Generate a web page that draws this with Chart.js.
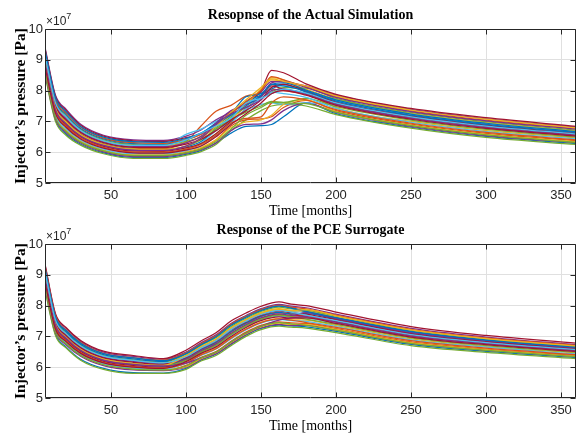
<!DOCTYPE html>
<html>
<head>
<meta charset="utf-8">
<script src="https://cdn.jsdelivr.net/npm/chart.js@4/dist/chart.umd.min.js"></script>
<style>
  html, body { margin: 0; padding: 0; background: #fff; width: 585px; height: 437px; overflow: hidden; }
  .panel { position: absolute; left: 0; width: 585px; height: 218px; }
  #simPanel { top: 0; }
  #pcePanel { top: 215px; }
</style>
</head>
<body>
<div class="panel" id="simPanel"><canvas id="simChart" width="585" height="218"></canvas></div>
<div class="panel" id="pcePanel"><canvas id="pceChart" width="585" height="218"></canvas></div>
<script>
// pressures are in units of 1e7 Pa (the axis shows the x10^7 multiplier)
const xTicks = [50, 100, 150, 200, 250, 300, 350];
const yTicks = [5, 6, 7, 8, 9, 10];
const lineColours = ['#0072BD', '#D95319', '#EDB120', '#7E2F8E', '#77AC30', '#4DBEEE', '#A2142F'];

const simMonths = [6, 13, 20, 30, 45, 65, 85, 100, 110, 120, 130, 140, 150, 157, 165, 180, 200, 250, 300, 360];
const simRuns = [
  [8.55, 7.04, 6.59, 6.25, 5.98, 5.83, 5.83, 5.93, 6.05, 6.30, 6.62, 6.84, 6.86, 6.90, 7.15, 7.60, 7.25, 6.81, 6.51, 6.28],
  [9.00, 7.47, 7.02, 6.59, 6.28, 6.13, 6.12, 6.35, 6.85, 7.33, 7.52, 7.82, 7.92, 8.05, 8.00, 7.88, 7.55, 7.10, 6.80, 6.55],
  [8.77, 7.26, 6.81, 6.42, 6.13, 5.98, 5.97, 6.08, 6.30, 6.60, 7.05, 7.50, 7.95, 8.42, 8.35, 7.95, 7.45, 7.00, 6.70, 6.46],
  [9.40, 7.85, 7.40, 6.90, 6.55, 6.40, 6.38, 6.52, 6.72, 7.05, 7.30, 7.60, 7.95, 8.30, 8.28, 8.15, 7.85, 7.39, 7.09, 6.81],
  [8.50, 7.00, 6.55, 6.22, 5.95, 5.80, 5.80, 5.90, 6.02, 6.25, 6.70, 7.05, 7.35, 7.50, 7.55, 7.50, 7.22, 6.78, 6.48, 6.25],
  [9.04, 7.51, 7.06, 6.63, 6.31, 6.16, 6.20, 6.58, 6.75, 7.00, 7.20, 7.55, 7.85, 8.10, 8.15, 8.00, 7.68, 7.23, 6.93, 6.66],
  [9.36, 7.81, 7.36, 6.87, 6.52, 6.37, 6.35, 6.47, 6.60, 6.90, 7.30, 7.60, 8.00, 8.66, 8.58, 8.22, 7.88, 7.42, 7.12, 6.84],
  [8.91, 7.38, 6.93, 6.52, 6.22, 6.07, 6.06, 6.17, 6.35, 6.75, 7.10, 7.65, 7.85, 8.05, 8.20, 7.95, 7.62, 7.16, 6.86, 6.60],
  [8.64, 7.13, 6.68, 6.32, 6.04, 5.89, 5.89, 5.99, 6.12, 6.40, 6.85, 7.05, 7.08, 7.15, 7.45, 7.68, 7.35, 6.91, 6.61, 6.37],
  [9.13, 7.60, 7.15, 6.70, 6.37, 6.22, 6.21, 6.32, 6.50, 6.85, 7.20, 7.55, 8.05, 8.35, 8.30, 8.05, 7.72, 7.26, 6.96, 6.69],
  [8.59, 7.09, 6.64, 6.29, 6.01, 5.86, 5.86, 5.96, 6.08, 6.30, 6.70, 6.90, 6.92, 7.05, 7.35, 7.60, 7.29, 6.84, 6.54, 6.31],
  [9.18, 7.64, 7.19, 6.73, 6.40, 6.25, 6.24, 6.35, 6.50, 6.80, 7.15, 7.45, 7.75, 7.95, 8.10, 8.08, 7.75, 7.29, 6.99, 6.72],
  [8.82, 7.30, 6.85, 6.46, 6.16, 6.01, 6.00, 6.12, 6.30, 6.70, 7.00, 7.35, 7.55, 7.60, 7.55, 7.60, 7.52, 7.07, 6.77, 6.52],
  [8.86, 7.34, 6.89, 6.49, 6.19, 6.04, 6.03, 6.14, 6.28, 6.60, 7.00, 7.40, 7.80, 8.15, 8.05, 7.90, 7.58, 7.13, 6.83, 6.57],
  [9.22, 7.68, 7.23, 6.76, 6.43, 6.28, 6.26, 6.40, 6.60, 6.95, 7.25, 7.80, 7.90, 8.20, 8.25, 8.02, 7.70, 7.24, 6.94, 6.67],
  [9.27, 7.72, 7.27, 6.80, 6.46, 6.31, 6.29, 6.42, 6.58, 6.90, 7.25, 7.65, 8.00, 8.45, 8.35, 8.12, 7.80, 7.34, 7.04, 6.77],
  [8.68, 7.17, 6.72, 6.36, 6.07, 5.92, 5.92, 6.02, 6.15, 6.40, 6.80, 6.98, 7.05, 7.20, 7.55, 7.70, 7.32, 6.88, 6.58, 6.34],
  [9.09, 7.55, 7.10, 6.66, 6.34, 6.19, 6.18, 6.30, 6.52, 6.95, 7.35, 7.55, 7.80, 8.25, 8.30, 8.10, 7.78, 7.32, 7.02, 6.75],
  [8.95, 7.43, 6.98, 6.56, 6.25, 6.10, 6.09, 6.20, 6.40, 6.75, 7.05, 7.30, 7.50, 7.65, 7.62, 7.75, 7.48, 7.04, 6.74, 6.49],
  [8.73, 7.21, 6.76, 6.39, 6.10, 5.95, 5.95, 6.05, 6.20, 6.55, 6.95, 7.40, 7.75, 7.95, 7.90, 7.78, 7.42, 6.97, 6.67, 6.43],
  [9.04, 7.51, 7.06, 6.63, 6.31, 6.16, 6.15, 6.26, 6.42, 6.70, 7.05, 7.35, 7.70, 8.10, 8.20, 7.98, 7.63, 7.18, 6.88, 6.62],
  [9.31, 7.77, 7.32, 6.83, 6.49, 6.34, 6.32, 6.45, 6.62, 6.90, 7.20, 7.50, 7.85, 8.20, 8.15, 7.98, 7.66, 7.20, 6.90, 6.64],
  [8.82, 7.30, 6.85, 6.46, 6.16, 6.01, 6.00, 6.10, 6.25, 6.55, 6.95, 7.10, 7.15, 7.60, 7.80, 7.70, 7.38, 6.94, 6.64, 6.40],
  [8.95, 7.43, 6.98, 6.56, 6.25, 6.10, 6.09, 6.20, 6.45, 6.85, 7.30, 7.70, 8.10, 8.38, 8.30, 8.15, 7.83, 7.37, 7.07, 6.79],
  [8.91, 7.38, 6.93, 6.52, 6.22, 6.07, 6.06, 6.20, 6.45, 6.90, 7.25, 7.45, 7.70, 8.00, 8.05, 7.88, 7.55, 7.10, 6.80, 6.55],
  [8.64, 7.13, 6.68, 6.32, 6.04, 5.89, 5.89, 5.98, 6.10, 6.35, 6.75, 7.20, 7.45, 7.62, 7.60, 7.58, 7.30, 6.86, 6.56, 6.32],
  [9.13, 7.60, 7.15, 6.70, 6.37, 6.22, 6.22, 6.40, 6.62, 6.85, 7.10, 7.60, 7.75, 7.90, 8.05, 7.92, 7.60, 7.15, 6.85, 6.59],
  [8.77, 7.26, 6.81, 6.42, 6.13, 5.98, 5.97, 6.07, 6.20, 6.50, 6.90, 7.25, 7.60, 7.90, 8.00, 7.85, 7.52, 7.07, 6.77, 6.52]
];

const pceMonths = [6, 13, 20, 30, 45, 65, 85, 100, 110, 120, 130, 140, 150, 162, 170, 180, 200, 250, 300, 360];
const pceRuns = [
  [8.54, 7.07, 6.66, 6.25, 5.96, 5.82, 5.81, 5.96, 6.23, 6.42, 6.74, 7.04, 7.26, 7.37, 7.34, 7.31, 7.16, 6.74, 6.51, 6.31],
  [8.97, 7.42, 6.99, 6.59, 6.27, 6.13, 6.07, 6.28, 6.56, 6.79, 7.14, 7.42, 7.64, 7.76, 7.71, 7.64, 7.46, 7.01, 6.76, 6.53],
  [8.76, 7.24, 6.83, 6.44, 6.14, 6.00, 5.96, 6.14, 6.41, 6.62, 6.96, 7.24, 7.46, 7.58, 7.54, 7.53, 7.35, 6.92, 6.67, 6.46],
  [9.31, 7.70, 7.26, 6.83, 6.49, 6.35, 6.26, 6.49, 6.79, 7.05, 7.42, 7.68, 7.90, 8.04, 7.98, 7.93, 7.72, 7.26, 6.98, 6.73],
  [8.50, 7.03, 6.63, 6.22, 5.93, 5.80, 5.80, 5.93, 6.20, 6.38, 6.70, 7.00, 7.22, 7.33, 7.30, 7.27, 7.12, 6.70, 6.48, 6.28],
  [9.01, 7.46, 7.03, 6.62, 6.30, 6.16, 6.10, 6.36, 6.64, 6.88, 7.24, 7.52, 7.74, 7.87, 7.81, 7.78, 7.59, 7.13, 6.87, 6.63],
  [9.35, 7.74, 7.29, 6.86, 6.52, 6.38, 6.28, 6.55, 6.85, 7.12, 7.50, 7.76, 7.98, 8.12, 8.05, 8.00, 7.79, 7.32, 7.03, 6.78],
  [8.88, 7.35, 6.93, 6.53, 6.22, 6.08, 6.03, 6.30, 6.58, 6.81, 7.16, 7.44, 7.66, 7.78, 7.73, 7.74, 7.56, 7.10, 6.84, 6.61],
  [8.65, 7.16, 6.75, 6.37, 6.07, 5.93, 5.90, 6.06, 6.32, 6.51, 6.84, 7.14, 7.36, 7.47, 7.44, 7.42, 7.25, 6.82, 6.59, 6.38],
  [9.10, 7.53, 7.09, 6.68, 6.36, 6.22, 6.14, 6.38, 6.67, 6.91, 7.28, 7.55, 7.77, 7.90, 7.84, 7.82, 7.62, 7.17, 6.89, 6.66],
  [8.63, 7.14, 6.73, 6.35, 6.05, 5.91, 5.89, 6.00, 6.25, 6.44, 6.76, 7.06, 7.28, 7.39, 7.36, 7.36, 7.20, 6.77, 6.55, 6.34],
  [9.14, 7.56, 7.13, 6.71, 6.38, 6.24, 6.17, 6.42, 6.71, 6.96, 7.32, 7.59, 7.81, 7.95, 7.89, 7.85, 7.66, 7.20, 6.92, 6.68],
  [8.80, 7.28, 6.86, 6.47, 6.16, 6.02, 5.98, 6.20, 6.47, 6.69, 7.04, 7.32, 7.54, 7.66, 7.62, 7.60, 7.42, 6.98, 6.73, 6.51],
  [8.84, 7.31, 6.89, 6.50, 6.19, 6.05, 6.00, 6.24, 6.51, 6.74, 7.08, 7.37, 7.59, 7.71, 7.66, 7.67, 7.49, 7.04, 6.78, 6.56],
  [9.18, 7.60, 7.16, 6.74, 6.41, 6.27, 6.19, 6.46, 6.75, 7.01, 7.38, 7.65, 7.87, 8.00, 7.94, 7.80, 7.60, 7.15, 6.88, 6.64],
  [9.25, 7.66, 7.21, 6.79, 6.45, 6.31, 6.23, 6.47, 6.76, 7.02, 7.39, 7.65, 7.87, 8.01, 7.95, 7.89, 7.69, 7.23, 6.95, 6.71],
  [8.69, 7.19, 6.78, 6.39, 6.09, 5.95, 5.92, 6.02, 6.28, 6.47, 6.80, 7.09, 7.31, 7.43, 7.39, 7.39, 7.23, 6.80, 6.57, 6.36],
  [9.05, 7.49, 7.06, 6.65, 6.33, 6.19, 6.12, 6.25, 6.53, 6.75, 7.10, 7.38, 7.60, 7.73, 7.68, 7.77, 7.58, 7.12, 6.85, 6.62],
  [8.93, 7.39, 6.96, 6.56, 6.25, 6.11, 6.05, 6.22, 6.49, 6.71, 7.06, 7.34, 7.56, 7.69, 7.64, 7.56, 7.39, 6.95, 6.70, 6.48],
  [8.71, 7.21, 6.80, 6.41, 6.11, 5.97, 5.94, 6.12, 6.38, 6.59, 6.92, 7.21, 7.43, 7.55, 7.51, 7.49, 7.32, 6.89, 6.65, 6.43],
  [9.01, 7.46, 7.03, 6.62, 6.30, 6.16, 6.10, 6.32, 6.60, 6.84, 7.20, 7.47, 7.69, 7.82, 7.77, 7.72, 7.54, 7.08, 6.82, 6.59],
  [9.22, 7.63, 7.19, 6.77, 6.44, 6.30, 6.21, 6.44, 6.73, 6.99, 7.36, 7.62, 7.84, 7.98, 7.92, 7.81, 7.61, 7.16, 6.88, 6.65],
  [8.80, 7.28, 6.86, 6.47, 6.16, 6.02, 5.98, 6.13, 6.40, 6.60, 6.94, 7.23, 7.45, 7.57, 7.53, 7.45, 7.29, 6.86, 6.62, 6.41],
  [8.94, 7.40, 6.97, 6.57, 6.26, 6.12, 6.06, 6.37, 6.66, 6.90, 7.26, 7.53, 7.75, 7.88, 7.83, 7.87, 7.67, 7.21, 6.93, 6.69],
  [8.90, 7.36, 6.94, 6.54, 6.23, 6.09, 6.04, 6.13, 6.30, 6.49, 6.82, 7.11, 7.33, 7.53, 7.60, 7.64, 7.46, 7.01, 6.76, 6.53],
  [8.67, 7.17, 6.76, 6.38, 6.08, 5.94, 5.91, 6.04, 6.30, 6.49, 6.82, 7.11, 7.33, 7.45, 7.41, 7.36, 7.20, 6.77, 6.55, 6.34],
  [9.10, 7.53, 7.09, 6.68, 6.36, 6.22, 6.14, 6.34, 6.62, 6.86, 7.22, 7.49, 7.71, 7.84, 7.79, 7.69, 7.51, 7.06, 6.80, 6.57],
  [8.76, 7.24, 6.83, 6.44, 6.14, 6.00, 5.96, 6.18, 6.45, 6.66, 7.00, 7.29, 7.51, 7.63, 7.59, 7.60, 7.42, 6.98, 6.73, 6.51]
];

const ink = '#262626';
const tickFont = { family: '"Liberation Sans Narrow", "Liberation Sans", sans-serif', size: 13 };
const serif = '"Liberation Serif", "DejaVu Serif", serif';

// matlab-style box, inward ticks on all four sides, title and exponent label
const axesFrame = {
  id: 'axesFrame',
  afterDatasetsDraw(chart, args, opts) {
    const ctx = chart.ctx;
    const a = chart.chartArea;
    const x = chart.scales.x, y = chart.scales.y;
    const L = Math.round(a.left) + 0.5, R = Math.round(a.right) - 0.5;
    const T = Math.round(a.top) + 0.5, B = Math.round(a.bottom) - 0.5;
    ctx.save();
    ctx.strokeStyle = ink;
    ctx.lineWidth = 1;
    ctx.beginPath();
    xTicks.forEach(function(v) {
      const px = Math.round(x.getPixelForValue(v)) + 0.5;
      ctx.moveTo(px, B); ctx.lineTo(px, B - 5);
      ctx.moveTo(px, T); ctx.lineTo(px, T + 5);
    });
    yTicks.forEach(function(v) {
      const py = Math.round(y.getPixelForValue(v)) + 0.5;
      ctx.moveTo(L, py); ctx.lineTo(L + 5, py);
      ctx.moveTo(R, py); ctx.lineTo(R - 5, py);
    });
    ctx.rect(L, T, R - L, B - T);
    ctx.stroke();

    ctx.fillStyle = '#000';
    ctx.font = 'bold 14px ' + serif;
    ctx.textAlign = 'center';
    ctx.textBaseline = 'middle';
    ctx.fillText(opts.title, (a.left + a.right) / 2, 15);

    ctx.fillStyle = ink;
    ctx.textAlign = 'left';
    ctx.textBaseline = 'alphabetic';
    ctx.font = '12px ' + tickFont.family;
    ctx.fillText('\u00d710', a.left + 1, a.top - 4);
    const w = ctx.measureText('\u00d710').width;
    ctx.font = '9px ' + tickFont.family;
    ctx.fillText('7', a.left + 1 + w, a.top - 10);
    ctx.restore();
  }
};

function makeChart(canvasId, title, months, runs) {
  const datasets = runs.map(function(run, i) {
    return {
      data: run.map(function(v, j) { return { x: months[j], y: v }; }),
      borderColor: lineColours[i % lineColours.length],
      borderWidth: 1.25,
      fill: false,
      pointRadius: 0,
      cubicInterpolationMode: 'monotone',
      order: runs.length - i
    };
  });

  return new Chart(document.getElementById(canvasId), {
    type: 'line',
    data: { datasets: datasets },
    options: {
      responsive: false,
      animation: false,
      events: [],
      layout: { padding: { top: 29, right: 9, bottom: 0, left: 0 } },
      plugins: {
        legend: { display: false },
        tooltip: { enabled: false },
        axesFrame: { title: title }
      },
      scales: {
        x: {
          type: 'linear',
          min: 6,
          max: 360,
          ticks: { stepSize: 50, includeBounds: false, color: ink, font: tickFont, padding: 5, maxRotation: 0 },
          grid: { color: '#e0e0e0', drawTicks: false },
          border: { display: false },
          title: {
            display: true,
            text: 'Time [months]',
            color: '#000',
            font: { family: serif, size: 14, lineHeight: 1 },
            padding: { top: 0, bottom: 0 }
          },
          afterFit: function(s) { s.height = 35; }
        },
        y: {
          type: 'linear',
          min: 5,
          max: 10,
          ticks: { stepSize: 1, color: ink, font: tickFont, padding: 2 },
          grid: { color: '#e0e0e0', drawTicks: false },
          border: { display: false },
          title: {
            display: true,
            text: 'Injector\u2019s pressure [Pa]',
            color: '#000',
            font: { family: serif, size: 15.5, weight: 'bold', lineHeight: 1 },
            padding: { top: 13, bottom: 0 }
          },
          afterFit: function(s) { s.width = 45; }
        }
      }
    },
    plugins: [axesFrame]
  });
}

makeChart('simChart', 'Resopnse of the Actual Simulation', simMonths, simRuns);
makeChart('pceChart', 'Response of the PCE Surrogate', pceMonths, pceRuns);
</script>
</body>
</html>
